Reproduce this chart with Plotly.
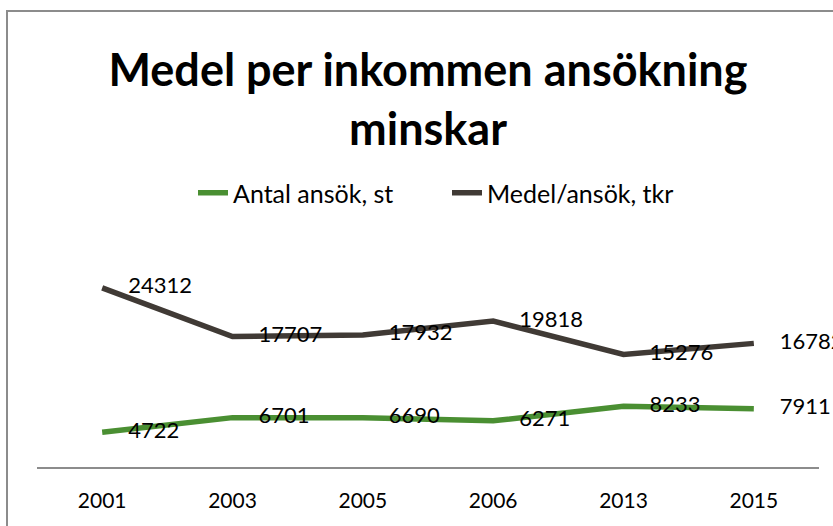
import plotly.graph_objects as go

years = ["2001", "2003", "2005", "2006", "2013", "2015"]
antal = [4722, 6701, 6690, 6271, 8233, 7911]
medel = [24312, 17707, 17932, 19818, 15276, 16782]

series_names = ["Antal ansök, st", "Medel/ansök, tkr"]
colors = ["#4a8f32", "#403a35"]

FONT = "Lato, 'Open Sans', sans-serif"

fig = go.Figure()
for name, vals, col in zip(series_names, [antal, medel], colors):
    fig.add_trace(go.Scatter(
        x=years, y=vals, name=name, mode="lines+markers+text",
        line=dict(color=col, width=5.5),
        marker=dict(size=40, color="rgba(0,0,0,0)", line=dict(width=0)),
        text=[str(v) for v in vals],
        textposition="middle right",
        textfont=dict(family=FONT, size=22, color="#000000"),
        cliponaxis=False,
        hoverinfo="x+y",
    ))

W, H = 833, 526
ml, mr, mt, mb = 37, 14, 246, 59
pw, ph = W - ml - mr, H - mt - mb

def px_to_paper_x(px):
    return (px - ml) / pw

def px_to_paper_y(py):
    return (H - mb - py) / ph

fig.update_layout(
    width=W, height=H,
    margin=dict(l=ml, r=mr, t=mt, b=mb, pad=0),
    paper_bgcolor="white", plot_bgcolor="white",
    font=dict(family=FONT, color="#000000"),
    title=dict(
        text="<b>Medel per inkommen ansökning<br>minskar</b>",
        x=0.5, xanchor="center", xref="paper",
        y=1 - 86 / H, yanchor="middle",
        font=dict(family=FONT, size=45, color="#000000"),
    ),
    showlegend=True,
    legend=dict(
        orientation="h", x=px_to_paper_x(447), xanchor="center",
        y=px_to_paper_y(193), yanchor="middle",
        font=dict(family=FONT, size=25, color="#000000"),
        itemwidth=30, entrywidth=209, bgcolor="rgba(0,0,0,0)",
    ),
    xaxis=dict(
        type="category", range=[-0.5, 5.5], showgrid=False,
        showline=True, linecolor="#8c8c8c", linewidth=2,
        ticks="outside", ticklen=14, tickcolor="rgba(0,0,0,0)",
        tickfont=dict(family=FONT, size=21, color="#000000"),
        zeroline=False, fixedrange=True,
    ),
    yaxis=dict(
        range=[0, 30000], visible=False, showgrid=False, zeroline=False,
        fixedrange=True,
    ),
    shapes=[dict(
        type="rect", xref="paper", yref="paper",
        x0=px_to_paper_x(7), x1=px_to_paper_x(900),
        y0=px_to_paper_y(600), y1=px_to_paper_y(11),
        line=dict(color="#8c8c8c", width=2), fillcolor="rgba(0,0,0,0)",
        layer="below",
    )],
)

fig.write_html(
    "out.html",
    config={"displayModeBar": False},
    post_script="document.body.style.margin='0';document.body.style.overflow='hidden';",
)
